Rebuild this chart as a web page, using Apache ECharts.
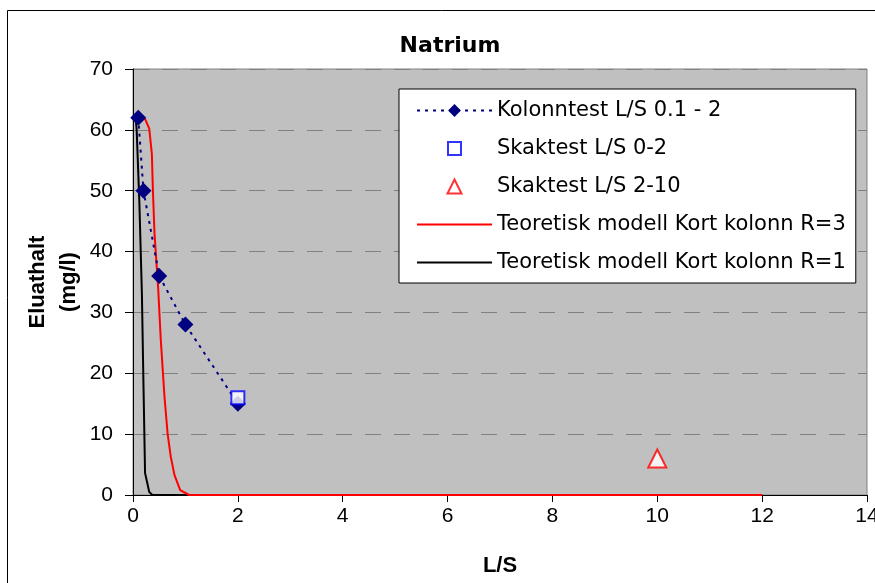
<!DOCTYPE html>
<html>
<head>
<meta charset="utf-8">
<script src="https://cdn.jsdelivr.net/npm/echarts@6/dist/echarts.min.js"></script>
<style>
	html, body { margin: 0; padding: 0; background: #fff; }
	#natriumChart { width: 875px; height: 583px; }
</style>
</head>
<body>
<div id="natriumChart"></div>
<script>
// Kolonntest L/S 0.1 - 2
const kolonnX = [0.1, 0.2, 0.5, 1, 2]
const kolonnY = [62, 50, 36, 28, 15]

// Skaktest points
const skak02X = [2]
const skak02Y = [16]
const skak210X = [10]
const skak210Y = [6]

// Teoretisk modell, R=3 and R=1
const modellR3X = [0.1, 0.23, 0.31, 0.36, 0.38, 0.41, 0.48, 0.53, 0.6, 0.66, 0.72, 0.79, 0.9, 1.07, 12]
const modellR3Y = [62, 61.8, 60.2, 56, 50, 43, 34, 25.5, 16.2, 10.1, 6.3, 3.3, 0.8, 0, 0]
const modellR1X = [0.05, 0.07, 0.12, 0.17, 0.2, 0.23, 0.31, 0.37, 12]
const modellR1Y = [62, 60, 48.5, 33, 18, 3.6, 0.5, 0, 0]

const legendNames = [
	'Kolonntest L/S 0.1 - 2',
	'Skaktest L/S 0-2',
	'Skaktest L/S 2-10',
	'Teoretisk modell Kort kolonn R=3',
	'Teoretisk modell Kort kolonn R=1',
]

const pairs = (xs, ys) => xs.map((x, i) => [x, ys[i]])

// legend icons, padded with moves so they fill the whole 75x16 item box
const iconSquare = 'path://M0,0M75,16M31,1.5L44,1.5L44,14.5L31,14.5Z'
const iconTriangle = 'path://M0,0M75,16M37.5,1L44.5,15L30.5,15Z'
const iconLine = 'path://M0,0M75,16M0,8L75,8'

const drawChart = () => {
	var chart = echarts.init(document.getElementById('natriumChart'))

	const option = {
		animation: false,
		backgroundColor: '#fff',
		graphic: [
			{
				type: 'rect',
				shape: { x: 7.5, y: 10.5, width: 900, height: 600 },
				style: { fill: 'none', stroke: '#000', lineWidth: 1 },
				silent: true,
			},
		],
		title: {
			text: 'Natrium',
			left: 445,
			textAlign: 'center',
			top: 30,
			textStyle: {
				fontFamily: 'DejaVu Sans',
				fontWeight: 'bold',
				fontSize: 22,
				color: '#000',
			},
		},
		grid: {
			left: 133,
			right: 8,
			top: 69,
			bottom: 88,
			outerBoundsMode: 'none',
			show: true,
			backgroundColor: '#c0c0c0',
			borderColor: '#808080',
			borderWidth: 1,
		},
		legend: {
			orient: 'vertical',
			left: 399,
			top: 89,
			data: [
				{ name: legendNames[0] },
				{
					name: legendNames[1],
					icon: iconSquare,
					itemStyle: { color: '#fff', borderColor: '#0000ff', borderWidth: 2 },
				},
				{
					name: legendNames[2],
					icon: iconTriangle,
					itemStyle: { color: '#fff', borderColor: '#ff0000', borderWidth: 2 },
				},
				{
					name: legendNames[3],
					icon: iconLine,
					itemStyle: { color: 'transparent', borderColor: '#ff0000', borderWidth: 2 },
				},
				{
					name: legendNames[4],
					icon: iconLine,
					itemStyle: { color: 'transparent', borderColor: '#000', borderWidth: 2 },
				},
			],
			backgroundColor: '#fff',
			borderColor: '#000',
			borderWidth: 1,
			padding: [11, 10, 10, 17],
			itemWidth: 75,
			itemHeight: 16,
			itemGap: 17,
			textStyle: {
				fontFamily: 'DejaVu Sans',
				fontSize: 21,
				lineHeight: 21,
				color: '#000',
			},
		},
		xAxis: {
			type: 'value',
			min: 0,
			max: 14,
			interval: 2,
			name: 'L/S',
			nameLocation: 'middle',
			nameGap: 60,
			nameMoveOverlap: false,
			nameTextStyle: {
				fontFamily: 'Liberation Sans',
				fontWeight: 'bold',
				fontSize: 22,
				color: '#000',
			},
			axisLine: { lineStyle: { color: '#000', width: 1 } },
			axisTick: { show: true, length: 7, lineStyle: { color: '#000' } },
			axisLabel: {
				margin: 11,
				fontFamily: 'Liberation Sans',
				fontSize: 21,
				color: '#000',
			},
			splitLine: { show: false },
		},
		yAxis: {
			type: 'value',
			min: 0,
			max: 70,
			interval: 10,
			name: 'Eluathalt\n(mg/l)',
			nameLocation: 'middle',
			nameRotate: 90,
			nameGap: 49,
			nameMoveOverlap: false,
			nameTextStyle: {
				fontFamily: 'Liberation Sans',
				fontWeight: 'bold',
				fontSize: 22,
				lineHeight: 31,
				color: '#000',
			},
			axisLine: { show: true, lineStyle: { color: '#000', width: 1 } },
			axisTick: { show: true, length: 8, lineStyle: { color: '#000' } },
			axisLabel: {
				margin: 20,
				fontFamily: 'Liberation Sans',
				fontSize: 21,
				color: '#000',
			},
			splitLine: {
				show: true,
				lineStyle: { color: '#808080', width: 1, type: [16, 13] },
			},
		},
		series: [
			{
				name: legendNames[4],
				type: 'line',
				data: pairs(modellR1X, modellR1Y),
				symbol: 'none',
				lineStyle: { color: '#000', width: 2 },
				itemStyle: { color: '#000' },
				z: 2,
			},
			{
				name: legendNames[3],
				type: 'line',
				data: pairs(modellR3X, modellR3Y),
				symbol: 'none',
				lineStyle: { color: '#ff0000', width: 2 },
				itemStyle: { color: '#ff0000' },
				z: 3,
			},
			{
				name: legendNames[0],
				type: 'line',
				data: pairs(kolonnX, kolonnY),
				symbol: 'diamond',
				symbolSize: 16,
				lineStyle: { color: '#000080', width: 2, type: [3, 5] },
				itemStyle: { color: '#000080' },
				z: 4,
			},
			{
				name: legendNames[1],
				type: 'scatter',
				data: pairs(skak02X, skak02Y),
				symbol: 'rect',
				symbolSize: 13,
				itemStyle: { color: '#fff', borderColor: '#0000ff', borderWidth: 2 },
				z: 5,
			},
			{
				name: legendNames[2],
				type: 'scatter',
				data: pairs(skak210X, skak210Y),
				symbol: 'triangle',
				symbolSize: 18,
				itemStyle: { color: '#fff', borderColor: '#ff0000', borderWidth: 2 },
				z: 5,
			},
		],
	}

	chart.setOption(option)
}

drawChart()
</script>
</body>
</html>
